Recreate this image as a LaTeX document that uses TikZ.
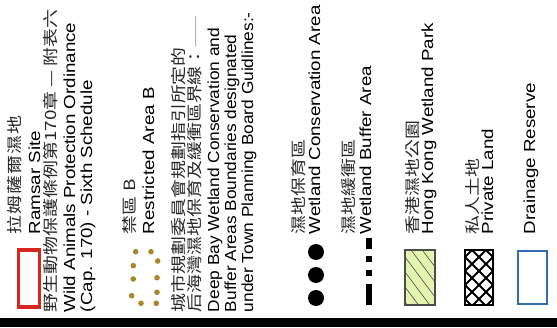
\documentclass[tikz,border=0pt]{standalone}
\usepackage{fontspec}
\setmainfont{Liberation Sans}[FakeStretch=1.17]
\newfontfamily\narrowsf{Liberation Sans}[FakeStretch=1.08]
\newfontfamily\cjk{Noto Sans CJK TC}[FakeStretch=1.22]
\usepackage{tikz}
\definecolor{ramsarred}{HTML}{D7261E}
\definecolor{golddot}{HTML}{A8862C}
\definecolor{parkgreen}{HTML}{E4F3AE}
\definecolor{drainblue}{HTML}{2F6DAE}

\begin{document}
\begin{tikzpicture}[x=1pt,y=1pt,
	lbl/.style={rotate=90,anchor=base west,inner sep=0,outer sep=0,text=black,font=\fontsize{16}{18}\selectfont},
	tpblbl/.style={lbl,font=\fontsize{16}{18}\selectfont\narrowsf},
	zh/.style={lbl,text=black!85,font=\fontsize{15.5}{18}\selectfont\cjk}]
	\useasboundingbox (0,0) rectangle (557,327);
	\fill (0,0) rectangle (557,9);
	\draw[ramsarred,line width=3.5] (18.5,20) rectangle (39.5,77);
	\foreach \x/\y in {135.7/75.3,151/75.3,157.7/66,133.3/61.3,133.3/48,157/49.3,131.7/31.3,157/34.7,141/23.7,156.3/23.7}
		\fill[golddot] (\x,\y) circle (2.8);
	\foreach \y in {75,52,29}
		\fill (316,\y) circle (8);
	\draw[line width=6.5,dash pattern=on 21pt off 8pt on 6pt off 8pt on 6pt off 7pt on 20pt] (369,22) -- (369,89);
	\fill[parkgreen] (405,22) rectangle (435,77);
	\begin{scope}
		\clip (405,22) rectangle (435,77);
		\foreach \c in {-30,-15,...,75}
			\draw[black!70,line width=0.6] (405,\c+40) -- (435,\c);
	\end{scope}
	\draw[black!70,line width=1.8] (405,22) rectangle (435,77);
	\begin{scope}
		\clip (465,22) rectangle (493,77);
		\foreach \c in {-56,-42,...,84}
			\draw[line width=2] (465,\c) -- (493,\c+28) (465,\c+28) -- (493,\c);
	\end{scope}
	\draw[line width=2.8] (465,22) rectangle (493,77);
	\draw[drainblue,line width=2.4] (518,23) rectangle (547,76);
	\node[zh] (ramsarzh) at (21,93) {\addfontfeature{LetterSpace=7}拉姆薩爾濕地};
	\node[lbl] (ramsar) at (40,93) {Ramsar Site};
	\node[zh] (wapozh) at (56,15) {野生動物保護條例第170章 — 附表六};
	\node[lbl] (wapo) at (75,15) {Wild Animals Protection Ordinance};
	\node[lbl] (sched) at (92,15) {(Cap. 170) - Sixth Schedule};
	\node[zh] (areabzh) at (135,93) {禁區 B};
	\node[lbl] (areab) at (154,93) {Restricted Area B};
	\node[zh] (tpbzh) at (184,15) {城市規劃委員會規劃指引所定的};
	\node[zh] (tpbzh2) at (200,15) {后海灣濕地保育及緩衝區界線：{\color{black!35}——}};
	\node[tpblbl] (tpb) at (219,15) {Deep Bay Wetland Conservation and};
	\node[tpblbl] (tpb2) at (236,15) {Buffer Areas Boundaries designated};
	\node[tpblbl] (tpb3) at (253,15) {under Town Planning Board Guidlines:-};
	\node[zh] (wcazh) at (304,93) {濕地保育區};
	\node[lbl] (wca) at (320,93) {Wetland Conservation Area};
	\node[zh] (wbazh) at (354,93) {濕地緩衝區};
	\node[lbl] (wba) at (371,93) {Wetland Buffer Area};
	\node[zh] (parkzh) at (418,93) {香港濕地公園};
	\node[lbl] (park) at (433,93) {Hong Kong Wetland Park};
	\node[zh] (privzh) at (478,93) {私人土地};
	\node[lbl] (priv) at (493,93) {Private Land};
	\node[lbl] (drain) at (535,93) {Drainage Reserve};
\end{tikzpicture}
\end{document}
